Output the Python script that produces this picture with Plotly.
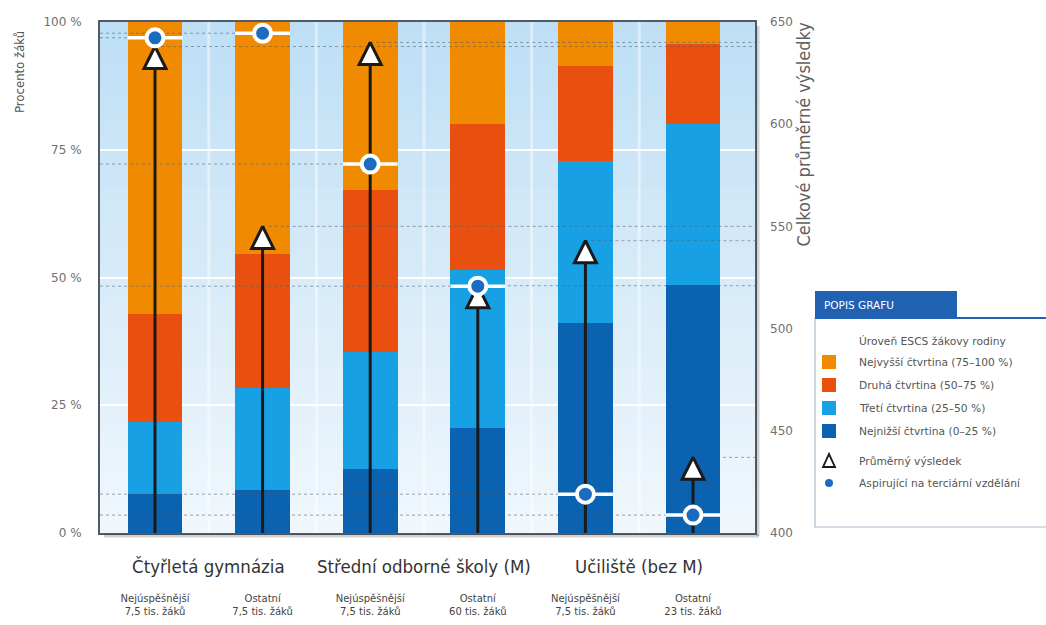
import plotly.graph_objects as go

# ---------------- data ----------------
positions = [0, 1, 2, 3, 4, 5]
group_labels = ["Čtyřletá gymnázia", "Střední odborné školy (M)", "Učiliště (bez M)"]
sub_labels = [
    "Nejúspěšnější<br>7,5 tis. žáků",
    "Ostatní<br>7,5 tis. žáků",
    "Nejúspěšnější<br>7,5 tis. žáků",
    "Ostatní<br>60 tis. žáků",
    "Nejúspěšnější<br>7,5 tis. žáků",
    "Ostatní<br>23 tis. žáků",
]
q_lowest = [7.6, 8.4, 12.5, 20.5, 41.1, 48.5]
q_third = [14.1, 20.0, 22.9, 31.0, 31.7, 31.5]
q_second = [21.2, 26.2, 31.7, 28.5, 18.6, 15.7]
q_highest = [57.1, 45.4, 32.9, 20.0, 8.6, 4.3]
aspiring_pct = [96.9, 97.8, 72.2, 48.3, 7.6, 3.5]
mean_score = [638, 550, 640, 521, 543, 437]

pct_ticks = [0, 25, 50, 75, 100]
pct_tick_labels = ["0 %", "25 %", "50 %", "75 %", "100 %"]
score_ticks = [400, 450, 500, 550, 600, 650]

quartile_names = [
    "Nejnižší čtvrtina (0–25 %)",
    "Třetí čtvrtina (25–50 %)",
    "Druhá čtvrtina (50–75 %)",
    "Nejvyšší čtvrtina (75–100 %)",
]
legend_title = "Úroveň ESCS žákovy rodiny"
legend_header = "POPIS GRAFU"
mean_label = "Průměrný výsledek"
aspiring_label = "Aspirující na terciární vzdělání"
left_title = "Procento žáků"
right_title = "Celkové průměrné výsledky"

# ---------------- style ----------------
W, H = 1046, 625
L, R, T, B = 100, 755, 22, 533
XMIN, XMAX = -0.511, 5.576
BAR_W = 0.51
BAR_PX = BAR_W * (R - L) / (XMAX - XMIN)
FONT_N = "Liberation Sans Narrow, DejaVu Sans Condensed, Arial Narrow, sans-serif"
FONT = "DejaVu Sans, Verdana, sans-serif"
quartile_colors = ["#0b62b0", "#18a0e4", "#e9500f", "#f08a00"]
circle_color = "#1b6cc1"
guide_color = "rgba(80,95,110,0.55)"
text_color = "#555555"


def xp(px):
    return (px - L) / (R - L)


def yp(py):
    return (B - py) / (B - T)


fig = go.Figure()

# stacked bars
for vals, name, col in zip([q_lowest, q_third, q_second, q_highest], quartile_names, quartile_colors):
    fig.add_trace(go.Bar(x=positions, y=vals, name=name, width=BAR_W,
                         marker=dict(color=col, line=dict(width=0)),
                         showlegend=False, hoverinfo="skip"))

# dotted guide lines for aspiring (to left axis)
gx, gy = [], []
for p, v in zip(positions, aspiring_pct):
    gx += [XMIN, p, None]
    gy += [v, v, None]
fig.add_trace(go.Scatter(x=gx, y=gy, mode="lines", yaxis="y",
                         line=dict(color=guide_color, width=1, dash="dot"),
                         showlegend=False, hoverinfo="skip"))

# dotted guide lines for mean score (to right axis)
tx, ty = [], []
for p, v in zip(positions, mean_score):
    tx += [p, XMAX, None]
    ty += [v, v, None]
fig.add_trace(go.Scatter(x=tx, y=ty, mode="lines", yaxis="y2",
                         line=dict(color=guide_color, width=1, dash="dot"),
                         showlegend=False, hoverinfo="skip"))

# arrows (vertical lines from 400 up to mean score)
ax, ay = [], []
for p, v in zip(positions, mean_score):
    ax += [p, p, None]
    ay += [score_ticks[0], v, None]
fig.add_trace(go.Scatter(x=ax, y=ay, mode="lines", yaxis="y2",
                         line=dict(color="#1a1a1a", width=3),
                         showlegend=False, hoverinfo="skip"))
fig.add_trace(go.Scatter(x=positions, y=mean_score, mode="markers", yaxis="y2",
                         name=mean_label,
                         marker=dict(symbol="arrow-up", size=22, color="white",
                                     line=dict(color="#1a1a1a", width=3)),
                         showlegend=False))

# white segments + circles (top overlay axis)
fig.add_trace(go.Scatter(x=positions, y=aspiring_pct, mode="markers", yaxis="y3",
                         marker=dict(symbol="line-ew", size=BAR_PX / 1.4,
                                     line=dict(color="white", width=3.5)),
                         showlegend=False, hoverinfo="skip"))
fig.add_trace(go.Scatter(x=positions, y=aspiring_pct, mode="markers", yaxis="y3",
                         name=aspiring_label,
                         marker=dict(symbol="circle", size=17, color=circle_color,
                                     line=dict(color="white", width=4)),
                         showlegend=False))

shapes = []
# background gradient
n = 40
top_c = (190, 223, 245)
bot_c = (240, 247, 252)
for i in range(n):
    t = i / (n - 1)
    c = tuple(int(round(bot_c[k] + (top_c[k] - bot_c[k]) * t)) for k in range(3))
    shapes.append(dict(type="rect", xref="x domain", yref="y domain",
                       x0=0, x1=1, y0=i / n, y1=(i + 1) / n + 0.002,
                       fillcolor="rgb(%d,%d,%d)" % c, line=dict(width=0), layer="below"))
# subtle white vertical separators in gaps
for p in positions[:-1]:
    shapes.append(dict(type="line", xref="x", yref="y domain", x0=p + 0.5, x1=p + 0.5,
                       y0=0, y1=1, line=dict(color="rgba(255,255,255,0.45)", width=3),
                       layer="below"))
# soft shadow of plot frame
shapes.append(dict(type="line", xref="paper", yref="paper", x0=xp(R + 3), x1=xp(R + 3),
                   y0=yp(B + 3), y1=yp(T + 4), line=dict(color="rgba(0,0,0,0.18)", width=3)))
shapes.append(dict(type="line", xref="paper", yref="paper", x0=xp(L + 4), x1=xp(R + 4),
                   y0=yp(B + 3), y1=yp(B + 3), line=dict(color="rgba(0,0,0,0.18)", width=3)))

# ---------------- legend (manual) ----------------
LX0, LX1 = 815, 1050
LEG_FS = 10.7
shapes.append(dict(type="rect", xref="paper", yref="paper", x0=xp(LX0), x1=xp(LX1),
                   y0=yp(527), y1=yp(318), fillcolor="white",
                   line=dict(color="#a9bccd", width=1.2)))
shapes.append(dict(type="rect", xref="paper", yref="paper", x0=xp(LX0), x1=xp(957),
                   y0=yp(318), y1=yp(291), fillcolor="#2061b2", line=dict(width=0)))
shapes.append(dict(type="line", xref="paper", yref="paper", x0=xp(LX0), x1=xp(LX1),
                   y0=yp(318), y1=yp(318), line=dict(color="#2061b2", width=2)))

annotations = []
annotations.append(dict(text=legend_header, xref="paper", yref="paper", x=xp(822), y=yp(305),
                        xanchor="left", yanchor="middle", showarrow=False,
                        font=dict(family=FONT, size=10.5, color="white")))
annotations.append(dict(text=legend_title, xref="paper", yref="paper", x=xp(857), y=yp(341),
                        xanchor="left", yanchor="middle", showarrow=False,
                        font=dict(family=FONT, size=LEG_FS, color=text_color)))
legend_rows = [362, 385, 408, 431]
for row, name, col in zip(legend_rows, quartile_names[::-1], quartile_colors[::-1]):
    shapes.append(dict(type="rect", xref="paper", yref="paper", x0=xp(822), x1=xp(836),
                       y0=yp(row + 7), y1=yp(row - 7), fillcolor=col, line=dict(width=0)))
    annotations.append(dict(text=name, xref="paper", yref="paper", x=xp(857), y=yp(row),
                            xanchor="left", yanchor="middle", showarrow=False,
                            font=dict(family=FONT, size=LEG_FS, color=text_color)))
# triangle symbol
tri = "M %f,%f L %f,%f L %f,%f Z" % (xp(829), yp(454), xp(823), yp(467), xp(835), yp(467))
shapes.append(dict(type="path", xref="paper", yref="paper", path=tri, fillcolor="white",
                   line=dict(color="#1a1a1a", width=1.8)))
annotations.append(dict(text=mean_label, xref="paper", yref="paper", x=xp(857), y=yp(461),
                        xanchor="left", yanchor="middle", showarrow=False,
                        font=dict(family=FONT, size=LEG_FS, color=text_color)))
shapes.append(dict(type="circle", xref="paper", yref="paper", x0=xp(825), x1=xp(833),
                   y0=yp(487), y1=yp(479), fillcolor=circle_color, line=dict(width=0)))
annotations.append(dict(text=aspiring_label, xref="paper", yref="paper", x=xp(857), y=yp(483),
                        xanchor="left", yanchor="middle", showarrow=False,
                        font=dict(family=FONT, size=LEG_FS, color=text_color)))

# axis titles
annotations.append(dict(text=left_title, xref="paper", yref="paper", x=xp(19), y=yp(29),
                        xanchor="center", yanchor="top", textangle=-90, showarrow=False,
                        font=dict(family=FONT_N, size=13, color=text_color)))
annotations.append(dict(text=right_title, xref="paper", yref="paper", x=xp(803), y=yp(20),
                        xanchor="center", yanchor="top", textangle=-90, showarrow=False,
                        font=dict(family=FONT_N, size=18, color="#5f5f5f")))

# group labels
for g, lab in enumerate(group_labels):
    cx = (positions[2 * g] + positions[2 * g + 1]) / 2
    annotations.append(dict(text=lab, xref="x", yref="paper", x=cx, y=yp(567),
                            xanchor="center", yanchor="middle", showarrow=False,
                            font=dict(family=FONT_N, size=18.5, color="#333333")))

fig.update_layout(
    width=W, height=H,
    margin=dict(l=L, r=W - R, t=T, b=H - B, autoexpand=False),
    paper_bgcolor="white", plot_bgcolor="#e6f2fb",
    barmode="stack", bargap=0,
    showlegend=False,
    font=dict(family=FONT, color=text_color),
    xaxis=dict(range=[XMIN, XMAX], tickvals=positions, ticktext=sub_labels,
               showgrid=False, zeroline=False, showline=True, mirror=True,
               linecolor="#4f5b66", linewidth=2, ticks="", automargin=False,
               ticklabelstandoff=55,
               tickfont=dict(family=FONT, size=10, color="#444444")),
    yaxis=dict(range=[0, 100], tickvals=pct_ticks, ticktext=pct_tick_labels,
               showgrid=True, gridcolor="white", gridwidth=2, zeroline=False,
               showline=True, mirror=True, linecolor="#4f5b66", linewidth=2,
               ticks="", ticklabelstandoff=14, automargin=False,
               tickfont=dict(family=FONT, size=12, color="#707070")),
    yaxis2=dict(range=[score_ticks[0], score_ticks[-1]], tickvals=score_ticks,
                overlaying="y", side="right", showgrid=False, zeroline=False,
                showline=False, ticks="", ticklabelstandoff=14, automargin=False,
                tickfont=dict(family=FONT, size=12, color="#707070")),
    yaxis3=dict(range=[0, 100], overlaying="y", visible=False),
    shapes=shapes,
    annotations=annotations,
)

fig.write_html("out.html")
